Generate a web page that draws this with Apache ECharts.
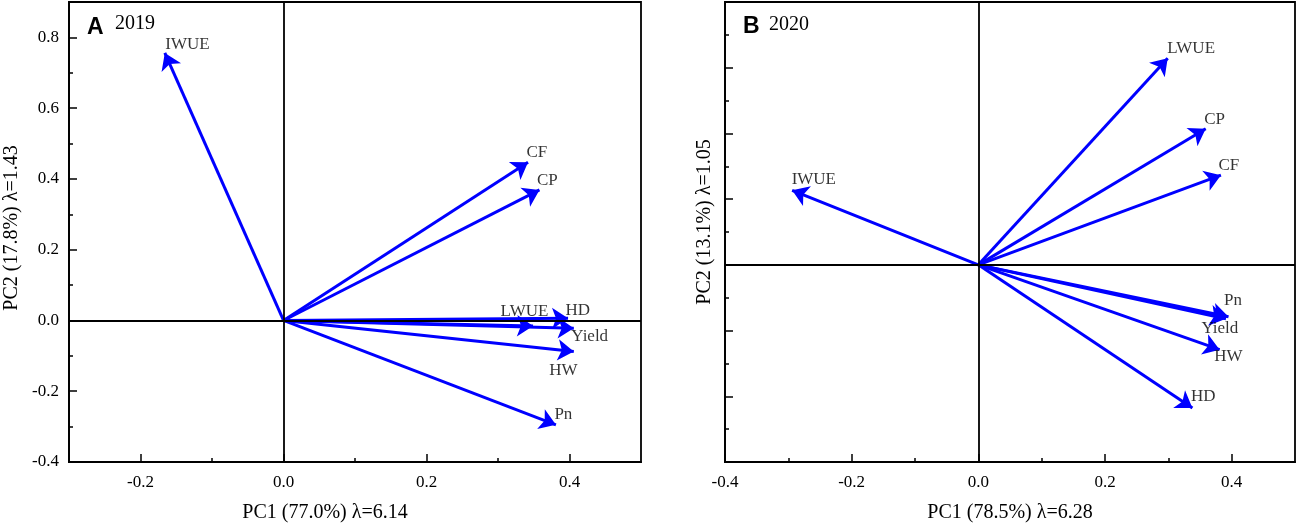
<!DOCTYPE html>
<html>
<head>
<meta charset="utf-8">
<script src="https://cdn.jsdelivr.net/npm/echarts@6/dist/echarts.min.js"></script>
<style>html,body{margin:0;padding:0;background:#fff}#c{width:1299px;height:527px}</style>
</head>
<body>
<div id="c"></div>
<script>
// ---- Data: panel A (2019) ----
const varsA = ['IWUE', 'CF', 'CP', 'LWUE', 'HD', 'Yield', 'HW', 'Pn'];
const pc1A  = [-0.166, 0.342, 0.358, 0.349, 0.398, 0.406, 0.406, 0.381];
const pc2A  = [ 0.756, 0.447, 0.369, -0.016, 0.006, -0.022, -0.088, -0.295];
// ---- Data: panel B (2020) ----
const varsB = ['IWUE', 'LWUE', 'CP', 'CF', 'Pn', 'Yield', 'HW', 'HD'];
const pc1B  = [-0.294, 0.299, 0.359, 0.383, 0.395, 0.391, 0.381, 0.338];
const pc2B  = [ 0.227, 0.629, 0.414, 0.273, -0.158, -0.164, -0.258, -0.436];
// ---- Axis ticks ----
const xTicksA = [-0.2, 0.0, 0.2, 0.4];
const xMinorA = [-0.1, 0.1, 0.3];
const yTicksA = [-0.4, -0.2, 0.0, 0.2, 0.4, 0.6, 0.8];
const yMinorA = [-0.3, -0.1, 0.1, 0.3, 0.5, 0.7];
const xTicksB = [-0.4, -0.2, 0.0, 0.2, 0.4];
const xMinorB = [-0.3, -0.1, 0.1, 0.3];
const yTicksB = [-0.4, -0.2, 0.0, 0.2, 0.4, 0.6];
const yMinorB = [-0.5, -0.3, -0.1, 0.1, 0.3, 0.5, 0.7];
// ---- Texts ----
const xTitleA = 'PC1 (77.0%) λ=6.14';
const yTitleA = 'PC2 (17.8%) λ=1.43';
const xTitleB = 'PC1 (78.5%) λ=6.28';
const yTitleB = 'PC2 (13.1%) λ=1.05';

// ---- Label offsets (layout only) ----
const offA = {IWUE:[1,-8], CF:[-1,-9], CP:[-2,-9], LWUE:[-32,-14], HD:[-2,-7], Yield:[-2,9], HW:[-24,19], Pn:[-1,-10]};
const offB = {IWUE:[0,-10], LWUE:[0,-9], CP:[-1,-9], CF:[-2,-9], Pn:[-4,-16], Yield:[-24,10], HW:[-5,7], HD:[-1,-11]};

const SERIF = '"Liberation Serif", "Times New Roman", serif';
const BLUE = '#0000ff';
const TXT = '#000';
const EPS = 1e-6;

function labelAxis(dim, grid, min, max, ticks, showLabels) {
  const keys = ticks.map(t => Math.round(t * 10));
  return {
    type: 'value', gridIndex: grid, min, max, interval: 0.1, position: dim === 'x' ? 'bottom' : 'left', offset: 0,
    axisLine: {show: true, onZero: false, lineStyle: {color: '#000', width: 1.8}},
    axisTick: {show: false},
    axisLabel: {show: showLabels, showMinLabel: true, showMaxLabel: true,
      formatter: v => keys.indexOf(Math.round(v * 10)) >= 0 ? (+v).toFixed(1) : '',
      margin: dim === 'x' ? 12 : 10, fontFamily: SERIF, fontSize: 17, color: TXT},
    splitLine: {show: false}
  };
}
function tickAxis(dim, grid, min, max, ticks, len) {
  return {
    type: 'value', gridIndex: grid, min, max, position: dim === 'x' ? 'bottom' : 'left', offset: 0,
    axisLine: {show: false, onZero: false},
    axisTick: {show: true, inside: true, length: len, customValues: ticks.map(t => t + EPS),
      lineStyle: {color: '#000', width: 1.5}},
    axisLabel: {show: false}, splitLine: {show: false}
  };
}

function arrows(names, xs, ys, xi, yi) {
  return {
    type: 'lines', coordinateSystem: 'cartesian2d', xAxisIndex: xi, yAxisIndex: yi,
    symbol: ['none', 'arrow'], symbolSize: 16, silent: true, animation: false, z: 3,
    lineStyle: {color: BLUE, width: 3, opacity: 1, curveness: 0},
    data: names.map((n, i) => ({name: n, coords: [[0, 0], [xs[i], ys[i]]]}))
  };
}
function labels(names, xs, ys, xi, yi, offs) {
  return {
    type: 'scatter', xAxisIndex: xi, yAxisIndex: yi, symbolSize: 1, silent: true, animation: false, z: 4,
    itemStyle: {color: 'rgba(0,0,0,0)'},
    data: names.map((n, i) => ({
      name: n, value: [xs[i], ys[i]],
      label: {show: true, formatter: n, position: offs[n], align: 'left', verticalAlign: 'middle',
        fontFamily: SERIF, fontSize: 17, color: TXT}
    })),
    markLine: {
      silent: true, symbol: 'none', animation: false,
      label: {show: false},
      lineStyle: {color: '#000', width: 1.8, type: 'solid'},
      data: [{xAxis: 0}, {yAxis: 0}]
    }
  };
}

const gridA = {left: 69, top: 2, width: 572, height: 460};
const gridB = {left: 725, top: 2, width: 570, height: 460};

const chart = echarts.init(document.getElementById('c'), null, {renderer: 'canvas'});
chart.setOption({
  backgroundColor: '#fff',
  animation: false,
  grid: [
    Object.assign({show: true, borderColor: '#000', borderWidth: 1.8}, gridA),
    Object.assign({show: true, borderColor: '#000', borderWidth: 1.8}, gridB),
    Object.assign({show: false}, gridA),
    Object.assign({show: false}, gridB)
  ],
  xAxis: [
    labelAxis('x', 0, -0.3, 0.5, xTicksA, true),
    labelAxis('x', 1, -0.4, 0.5, xTicksB, true),
    tickAxis('x', 2, -0.3, 0.5, xTicksA, 8),
    tickAxis('x', 2, -0.3, 0.5, xMinorA, 4),
    tickAxis('x', 3, -0.4, 0.5, xTicksB, 8),
    tickAxis('x', 3, -0.4, 0.5, xMinorB, 4)
  ],
  yAxis: [
    labelAxis('y', 0, -0.4, 0.9, yTicksA, true),
    labelAxis('y', 1, -0.6, 0.8, yTicksB, false),
    tickAxis('y', 2, -0.4, 0.9, yTicksA, 8),
    tickAxis('y', 2, -0.4, 0.9, yMinorA, 4),
    tickAxis('y', 3, -0.6, 0.8, yTicksB, 8),
    tickAxis('y', 3, -0.6, 0.8, yMinorB, 4)
  ],
  series: [
    labels(varsA, pc1A, pc2A, 0, 0, offA),
    arrows(varsA, pc1A, pc2A, 0, 0),
    labels(varsB, pc1B, pc2B, 1, 1, offB),
    arrows(varsB, pc1B, pc2B, 1, 1)
  ],
  graphic: [
    {type: 'text', x: 87, y: 28, z: 10, style: {text: 'A', font: 'bold 23px "Liberation Sans", Arial, sans-serif', fill: '#000', verticalAlign: 'middle', align: 'left'}},
    {type: 'text', x: 115, y: 24, z: 10, style: {text: '2019', font: '20px ' + SERIF, fill: TXT, verticalAlign: 'middle', align: 'left'}},
    {type: 'text', x: 743, y: 27, z: 10, style: {text: 'B', font: 'bold 23px "Liberation Sans", Arial, sans-serif', fill: '#000', verticalAlign: 'middle', align: 'left'}},
    {type: 'text', x: 769, y: 25, z: 10, style: {text: '2020', font: '20px ' + SERIF, fill: TXT, verticalAlign: 'middle', align: 'left'}},
    {type: 'text', x: 325, y: 513, style: {text: xTitleA, font: '20px ' + SERIF, fill: TXT, verticalAlign: 'middle', align: 'center'}},
    {type: 'text', x: 1010, y: 513, style: {text: xTitleB, font: '20px ' + SERIF, fill: TXT, verticalAlign: 'middle', align: 'center'}},
    {type: 'text', x: 12, y: 228, rotation: Math.PI / 2, style: {text: yTitleA, font: '20px ' + SERIF, fill: TXT, verticalAlign: 'middle', align: 'center'}},
    {type: 'text', x: 705, y: 222, rotation: Math.PI / 2, style: {text: yTitleB, font: '20px ' + SERIF, fill: TXT, verticalAlign: 'middle', align: 'center'}}
  ]
});
</script>
</body>
</html>
